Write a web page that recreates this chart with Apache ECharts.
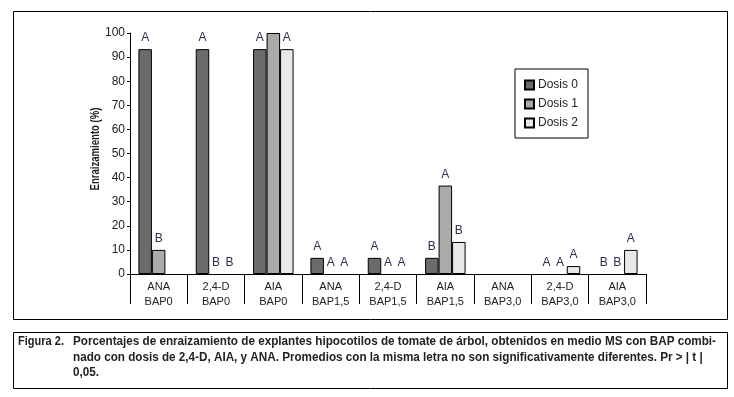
<!DOCTYPE html>
<html>
<head>
<meta charset="utf-8">
<script src="https://cdn.jsdelivr.net/npm/echarts@6/dist/echarts.min.js"></script>
<style>
  html, body { margin: 0; padding: 0; background: #fff; }
  #chart { width: 734px; height: 397px; }
</style>
</head>
<body>
<div id="chart"></div>
<script>
// categorias (tratamiento + BAP)
const categories = ['ANA\nBAP0', '2,4-D\nBAP0', 'AIA\nBAP0', 'ANA\nBAP1,5', '2,4-D\nBAP1,5',
  'AIA\nBAP1,5', 'ANA\nBAP3,0', '2,4-D\nBAP3,0', 'AIA\nBAP3,0']
const seriesNames = ['Dosis 0', 'Dosis 1', 'Dosis 2']
const dosis0 = [93.3, 93.3, 93.3, 6.7, 6.7, 6.7, 0, 0, 0]
const dosis1 = [10, 0, 100, 0, 0, 36.7, 0, 0, 0]
const dosis2 = [0, 0, 93.3, 0, 0, 13.3, 0, 3.3, 10]
// letras de significancia
const letras0 = ['A', 'A', 'A', 'A', 'A', 'B', '', 'A', 'B']
const letras1 = ['B', 'B', '', 'A', 'A', 'A', '', 'A', 'B']
const letras2 = ['', 'B', 'A', 'A', 'A', 'B', '', 'A', 'A']
const yTicks = [0, 10, 20, 30, 40, 50, 60, 70, 80, 90, 100]

const captionLines = [
  'Porcentajes de enraizamiento de explantes hipocotilos de tomate de árbol, obtenidos en medio MS con BAP combi-',
  'nado con dosis de 2,4-D, AIA, y ANA. Promedios con la misma letra no son significativamente diferentes. Pr > | t |',
  '0,05.'
]

const colors = ['#6b6b6b', '#aaaaaa', '#e8e8e8']
const letterColor = '#2e2a4e'
const sans = '"Liberation Sans", Arial, sans-serif'

const chart = echarts.init(document.getElementById('chart'))

// ancho de texto para comprimir (la fuente original es condensada)
const ctx = document.createElement('canvas').getContext('2d')
function textWidth(txt, font) {
  ctx.font = font
  return ctx.measureText(txt).width
}
const capFont = 'bold 13px ' + sans
const capScale = 643 / textWidth(captionLines[0], capFont)
const figScale = 46 / textWidth('Figura 2.', capFont)
const yNameFont = 'bold 13px ' + sans
const yNameScale = 83 / textWidth('Enraizamiento (%)', yNameFont)

function makeSeries(name, data, letters, color) {
  return {
    name: name,
    type: 'bar',
    data: data.map(v => v === 0 ? { value: 0, itemStyle: { borderWidth: 0 } } : v),
    barWidth: 13.5,
    barGap: '0%',
    itemStyle: { color: color, borderColor: '#000', borderWidth: 1 },
    label: {
      show: true,
      position: 'top',
      distance: 5,
      color: letterColor,
      fontFamily: sans,
      fontSize: 12,
      formatter: p => letters[p.dataIndex]
    }
  }
}

const option = {
  animation: false,
  grid: { left: 130, right: 88, top: 33, bottom: 123 },
  legend: {
    orient: 'vertical',
    left: 515,
    top: 69,
    itemWidth: 9,
    itemHeight: 9,
    itemGap: 7,
    padding: [10, 10, 9, 9],
    borderColor: '#000',
    borderWidth: 1,
    icon: 'rect',
    textStyle: { fontFamily: sans, fontSize: 12, color: '#222', padding: [0, 0, 0, -1] },
    data: seriesNames
  },
  xAxis: {
    type: 'category',
    data: categories,
    boundaryGap: true,
    axisLine: { lineStyle: { color: '#000', width: 1 } },
    axisTick: {
      show: true,
      length: 30,
      interval: 0,
      lineStyle: { color: '#000' }
    },
    axisLabel: {
      interval: 0,
      margin: 5,
      color: '#222',
      fontFamily: sans,
      fontSize: 11,
      lineHeight: 15
    }
  },
  yAxis: {
    type: 'value',
    min: 0,
    max: 100,
    interval: 10,
    axisLine: { show: true, lineStyle: { color: '#000' } },
    axisTick: { show: true, length: 3, lineStyle: { color: '#000' } },
    splitLine: { show: false },
    axisLabel: {
      margin: 5,
      color: '#222',
      fontFamily: sans,
      fontSize: 12,
      formatter: v => yTicks.indexOf(v) >= 0 ? String(v) : ''
    }
  },
  series: [
    makeSeries(seriesNames[0], dosis0, letras0, colors[0]),
    makeSeries(seriesNames[1], dosis1, letras1, colors[1]),
    makeSeries(seriesNames[2], dosis2, letras2, colors[2])
  ],
  graphic: [
    {
      type: 'rect', left: 11, top: 9, silent: true,
      shape: { width: 714, height: 308 },
      style: { fill: 'none', stroke: '#000', lineWidth: 1 }
    },
    {
      type: 'rect', left: 11, top: 330, silent: true,
      shape: { width: 714, height: 56 },
      style: { fill: 'none', stroke: '#000', lineWidth: 1 }
    },
    {
      type: 'text', x: 95, y: 149, rotation: Math.PI / 2, scaleX: yNameScale,
      style: {
        text: 'Enraizamiento (%)', font: yNameFont, fill: '#222',
        align: 'center', verticalAlign: 'middle'
      }
    },
    {
      type: 'text', x: 18, y: 334, scaleX: figScale,
      style: { text: 'Figura 2.', font: capFont, lineHeight: 15.5, fill: '#222' }
    },
    {
      type: 'text', x: 73, y: 334, scaleX: capScale,
      style: {
        text: captionLines.join('\n'),
        font: capFont,
        lineHeight: 15.5,
        fill: '#222'
      }
    }
  ]
}

chart.setOption(option)
</script>
</body>
</html>
